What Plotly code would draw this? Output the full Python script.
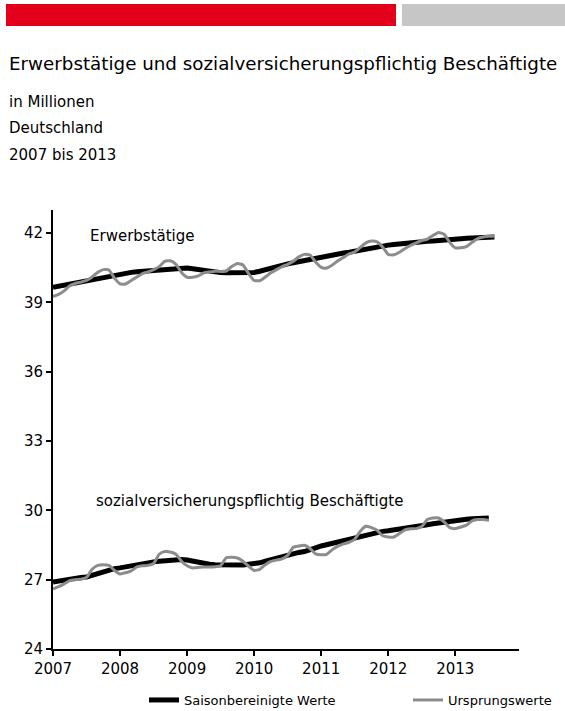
import plotly.graph_objects as go

# Monthly series, January 2007 onwards (values in millions)
erw_sa = [
    39.65, 39.70, 39.75, 39.80, 39.85, 39.90, 39.94, 39.98, 40.03, 40.08, 40.13, 40.18,
    40.22, 40.26, 40.30, 40.33, 40.35, 40.37, 40.39, 40.42, 40.44, 40.46, 40.48, 40.49,
    40.49, 40.46, 40.42, 40.38, 40.34, 40.30, 40.29, 40.28, 40.28, 40.28, 40.29, 40.30,
    40.30, 40.35, 40.42, 40.50, 40.56, 40.62, 40.67, 40.72, 40.77, 40.82, 40.86, 40.92,
    40.98, 41.02, 41.06, 41.10, 41.14, 41.17, 41.22, 41.28, 41.33, 41.38, 41.42, 41.45,
    41.48, 41.51, 41.54, 41.57, 41.60, 41.62, 41.64, 41.65, 41.66, 41.67, 41.69, 41.72,
    41.74, 41.76, 41.78, 41.79, 41.80, 41.81, 41.82, 41.83,
]
erw_orig = [
    39.26, 39.35, 39.50, 39.72, 39.82, 39.88, 39.95, 40.10, 40.30, 40.42, 40.40, 40.05,
    39.80, 39.80, 39.95, 40.10, 40.25, 40.32, 40.42, 40.55, 40.78, 40.80, 40.65, 40.30,
    40.09, 40.09, 40.15, 40.28, 40.32, 40.35, 40.34, 40.36, 40.55, 40.68, 40.62, 40.25,
    39.95, 39.94, 40.10, 40.28, 40.42, 40.55, 40.65, 40.78, 40.97, 41.08, 41.05, 40.75,
    40.52, 40.49, 40.62, 40.80, 40.95, 41.10, 41.18, 41.38, 41.58, 41.66, 41.62, 41.40,
    41.08, 41.06, 41.17, 41.33, 41.47, 41.58, 41.68, 41.74, 41.90, 42.03, 41.95, 41.60,
    41.36, 41.37, 41.42, 41.60, 41.76, 41.83, 41.86, 41.86,
]
svb_sa = [
    26.90, 26.95, 27.00, 27.04, 27.07, 27.10, 27.12, 27.20, 27.28, 27.36, 27.42, 27.48,
    27.51, 27.56, 27.61, 27.65, 27.69, 27.73, 27.77, 27.80, 27.83, 27.85, 27.86, 27.87,
    27.85, 27.80, 27.74, 27.69, 27.67, 27.65, 27.64, 27.63, 27.62, 27.62, 27.64, 27.67,
    27.68, 27.73, 27.80, 27.87, 27.94, 28.01, 28.08, 28.13, 28.18, 28.22, 28.28, 28.38,
    28.46, 28.52, 28.58, 28.64, 28.70, 28.75, 28.82, 28.90, 28.96, 29.00, 29.05, 29.09,
    29.12, 29.15, 29.18, 29.22, 29.26, 29.30, 29.34, 29.38, 29.42, 29.46, 29.50, 29.54,
    29.57, 29.60, 29.62, 29.64, 29.65, 29.66, 29.67,
]
svb_orig = [
    26.60, 26.70, 26.82, 26.96, 27.00, 27.02, 27.10, 27.45, 27.62, 27.65, 27.62, 27.40,
    27.25, 27.30, 27.38, 27.55, 27.60, 27.62, 27.70, 28.10, 28.22, 28.20, 28.10, 27.80,
    27.60, 27.51, 27.53, 27.55, 27.55, 27.56, 27.60, 27.95, 27.97, 27.94, 27.80, 27.58,
    27.40, 27.45, 27.65, 27.79, 27.85, 27.90, 28.05, 28.40, 28.46, 28.49, 28.35, 28.12,
    28.08, 28.10, 28.30, 28.45, 28.55, 28.62, 28.75, 29.10, 29.31, 29.25, 29.14, 28.90,
    28.85, 28.85, 29.00, 29.16, 29.20, 29.21, 29.30, 29.60, 29.67, 29.67, 29.50, 29.25,
    29.21, 29.28, 29.36, 29.55, 29.60, 29.60, 29.57,
]

years = [2007, 2008, 2009, 2010, 2011, 2012, 2013]
y_ticks = [24, 27, 30, 33, 36, 39, 42]

title = "Erwerbstätige und sozialversicherungspflichtig Beschäftigte"
subtitles = ["in Millionen", "Deutschland", "2007 bis 2013"]
label_erw = "Erwerbstätige"
label_svb = "sozialversicherungspflichtig Beschäftigte"
name_sa = "Saisonbereinigte Werte"
name_orig = "Ursprungswerte"


def month_axis(n):
    return [2007 + i / 12 for i in range(n)]


FONT = "DejaVu Sans, Arial, sans-serif"
BLACK = "#000000"
GREY_LINE = "#8c8c8c"

W, H = 565, 711
ML, MR, MT, MB = 53, 46, 210, 62
PLOT_W = W - ML - MR
PLOT_H = H - MT - MB


def px_x(x):
    return (x - ML) / PLOT_W


def px_y(y):
    return (H - MB - y) / PLOT_H


sa_line = dict(color=BLACK, width=5)
orig_line = dict(color=GREY_LINE, width=3, shape="spline", smoothing=0.5)

fig = go.Figure()
fig.add_trace(go.Scatter(x=month_axis(len(erw_sa)), y=erw_sa, mode="lines",
                         line=sa_line, name=name_sa, legend="legend"))
fig.add_trace(go.Scatter(x=month_axis(len(svb_sa)), y=svb_sa, mode="lines",
                         line=sa_line, name=name_sa, showlegend=False))
fig.add_trace(go.Scatter(x=month_axis(len(erw_orig)), y=erw_orig, mode="lines",
                         line=orig_line, name=name_orig, legend="legend2"))
fig.add_trace(go.Scatter(x=month_axis(len(svb_orig)), y=svb_orig, mode="lines",
                         line=orig_line, name=name_orig, showlegend=False))

fig.update_xaxes(
    range=[2007, 2013.95], tickmode="array", tickvals=years,
    ticktext=[str(y) for y in years], showgrid=False, zeroline=False,
    showline=True, linecolor=BLACK, linewidth=2, ticks="outside",
    ticklen=5, tickwidth=2, tickcolor=BLACK,
    tickfont=dict(family=FONT, size=15, color=BLACK),
)
fig.update_yaxes(
    range=[24, 43], tickmode="array", tickvals=y_ticks,
    showgrid=False, zeroline=False, showline=True, linecolor=BLACK,
    linewidth=2, ticks="outside", ticklen=5, tickwidth=2, tickcolor=BLACK,
    tickfont=dict(family=FONT, size=15, color=BLACK),
)

annotations = [
    dict(text=title, xref="paper", yref="paper", x=px_x(7), y=px_y(63),
         xanchor="left", yanchor="middle", showarrow=False,
         font=dict(family=FONT, size=18.3, color=BLACK)),
]
for txt, yy in zip(subtitles, [102, 128, 155]):
    annotations.append(dict(text=txt, xref="paper", yref="paper", x=px_x(7),
                            y=px_y(yy), xanchor="left", yanchor="middle",
                            showarrow=False,
                            font=dict(family=FONT, size=15, color=BLACK)))
annotations.append(dict(text=label_erw, x=2007.52, y=41.88, xanchor="left",
                        yanchor="middle", showarrow=False,
                        font=dict(family=FONT, size=15, color=BLACK)))
annotations.append(dict(text=label_svb, x=2007.61, y=30.4, xanchor="left",
                        yanchor="middle", showarrow=False,
                        font=dict(family=FONT, size=15, color=BLACK)))

shapes = [
    dict(type="rect", xref="paper", yref="paper", x0=px_x(6), x1=px_x(396),
         y0=px_y(26), y1=px_y(4), fillcolor="#e2001a", line=dict(width=0),
         layer="above"),
    dict(type="rect", xref="paper", yref="paper", x0=px_x(402), x1=px_x(565),
         y0=px_y(26), y1=px_y(4), fillcolor="#c6c6c6", line=dict(width=0),
         layer="above"),
]

legend_font = dict(family=FONT, size=13, color=BLACK)
fig.update_layout(
    width=W, height=H,
    margin=dict(l=ML, r=MR, t=MT, b=MB, autoexpand=False),
    plot_bgcolor="white", paper_bgcolor="white",
    annotations=annotations, shapes=shapes,
    showlegend=True,
    legend=dict(orientation="h", x=px_x(144), y=px_y(700), xanchor="left",
                yanchor="middle", font=legend_font, bgcolor="rgba(0,0,0,0)"),
    legend2=dict(orientation="h", x=px_x(408), y=px_y(700), xanchor="left",
                 yanchor="middle", font=legend_font, bgcolor="rgba(0,0,0,0)"),
)

fig.write_html("out.html")
